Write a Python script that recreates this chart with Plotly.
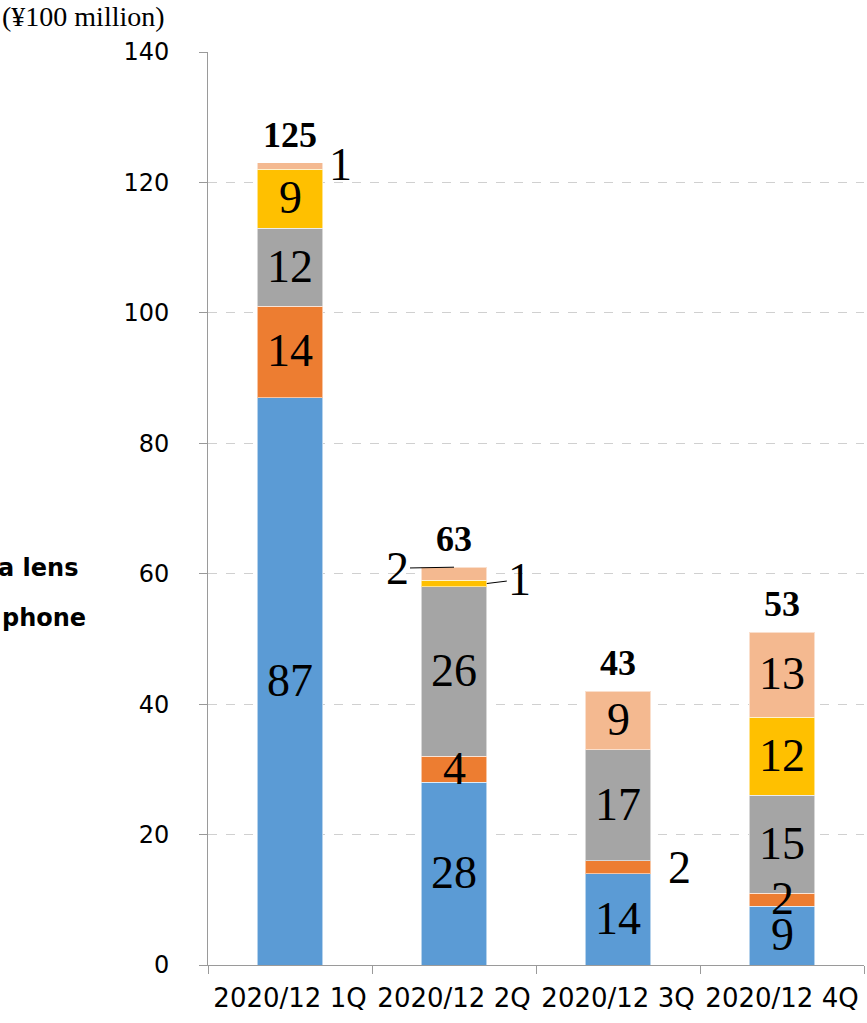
import plotly.graph_objects as go

categories = ["2020/12 1Q", "2020/12 2Q", "2020/12 3Q", "2020/12 4Q"]
series_names = ["Series A", "Series B", "Series C", "Series D", "Series E"]
blue_vals = [87, 28, 14, 9]
orange_vals = [14, 4, 2, 2]
gray_vals = [12, 26, 17, 15]
yellow_vals = [9, 1, 0, 12]
peach_vals = [1, 2, 9, 13]
total_labels = [125, 63, 43, 53]
y_ticks = [0, 20, 40, 60, 80, 100, 120, 140]

series_vals = [blue_vals, orange_vals, gray_vals, yellow_vals, peach_vals]
colors = ["#5B9BD5", "#ED7D31", "#A5A5A5", "#FFC000", "#F4B990"]

# label placement overrides: (series index, category index)
outside = {
    (4, 0): dict(ax=50, ay=-2, line=False, dx=0.0, where="mid"),
    (4, 1): dict(ax=-57, ay=1, line=True, dx=0.0, where="top"),
    (3, 1): dict(ax=33, ay=-4, line=True, dx=0.2, where="mid"),
    (1, 2): dict(ax=61, ay=0, line=False, dx=0.0, where="mid"),
}

fig = go.Figure()
for name, vals, col in zip(series_names, series_vals, colors):
    fig.add_trace(go.Bar(
        x=categories, y=vals, name=name, width=0.4,
        marker=dict(color=col, line=dict(color="rgba(255,255,255,0.55)", width=1)),
        showlegend=False, hoverinfo="skip",
    ))

annotations = []
seg_font = dict(family="Liberation Serif", size=46, color="black")
cum = [0] * len(categories)
for si, vals in enumerate(series_vals):
    for ci, v in enumerate(vals):
        lo = cum[ci]
        hi = lo + v
        cum[ci] = hi
        if v <= 0:
            continue
        key = (si, ci)
        if key in outside:
            o = outside[key]
            yy = hi if o["where"] == "top" else (lo + hi) / 2
            if o["line"]:
                annotations.append(dict(
                    x=ci + o["dx"], y=yy, xref="x", yref="y", text=str(v),
                    showarrow=True, arrowhead=0, arrowwidth=1, arrowcolor="black",
                    ax=o["ax"], ay=o["ay"], standoff=0, startstandoff=0, font=seg_font,
                ))
            else:
                annotations.append(dict(
                    x=ci + o["dx"], y=yy, xref="x", yref="y", text=str(v),
                    showarrow=False, xshift=o["ax"], yshift=-o["ay"], font=seg_font,
                ))
        else:
            annotations.append(dict(
                x=ci, y=(lo + hi) / 2, xref="x", yref="y", text=str(v),
                showarrow=False, font=seg_font, yshift=1,
            ))

for ci, t in enumerate(total_labels):
    annotations.append(dict(
        x=ci, y=cum[ci], xref="x", yref="y", text="<b>%d</b>" % t,
        showarrow=False, yshift=28,
        font=dict(family="Liberation Serif", size=36, color="black"),
    ))

fig.update_layout(
    width=867, height=1023,
    margin=dict(l=208, r=3, t=52, b=58),
    barmode="stack",
    plot_bgcolor="white", paper_bgcolor="white",
)

W = 867 - 208 - 3
H = 1023 - 52 - 58
def px_to_paper(px, py):
    return (px - 208) / W, (1023 - 58 - py) / H

tx, ty = px_to_paper(0, 17)
annotations.append(dict(
    x=tx, y=ty, xref="paper", yref="paper", text="(¥100 million)",
    showarrow=False, xanchor="left", yanchor="middle",
    font=dict(family="Liberation Serif", size=28, color="black"),
))

ax1, ay1 = px_to_paper(80, 568)
ax2, ay2 = px_to_paper(88, 618)
side_font = dict(family="DejaVu Sans", size=24, color="black")
annotations.append(dict(x=ax1, y=ay1, xref="paper", yref="paper", text="<b>a lens</b>",
                        showarrow=False, xanchor="right", yanchor="middle", font=side_font))
annotations.append(dict(x=ax2, y=ay2, xref="paper", yref="paper", text="<b>phone</b>",
                        showarrow=False, xanchor="right", yanchor="middle", font=side_font))

fig.update_layout(annotations=annotations)

fig.update_xaxes(
    type="category", showline=True, linecolor="#9a9a9a", linewidth=1,
    ticks="outside", tickson="boundaries", ticklen=8, tickcolor="#9a9a9a",
    ticklabelstandoff=10,
    tickfont=dict(family="DejaVu Sans", size=26, color="black"),
    showgrid=False, range=[-0.5, 3.5],
)
fig.update_yaxes(
    range=[0, 140], tickvals=y_ticks, showline=True, linecolor="#9a9a9a", linewidth=1,
    ticks="outside", ticklen=8, tickcolor="#9a9a9a", ticklabelstandoff=25,
    tickfont=dict(family="DejaVu Sans", size=24, color="black"),
    showgrid=True, gridcolor="#d0d0d0", griddash="dash", gridwidth=1,
    zeroline=False,
)

fig.write_html("out.html")
